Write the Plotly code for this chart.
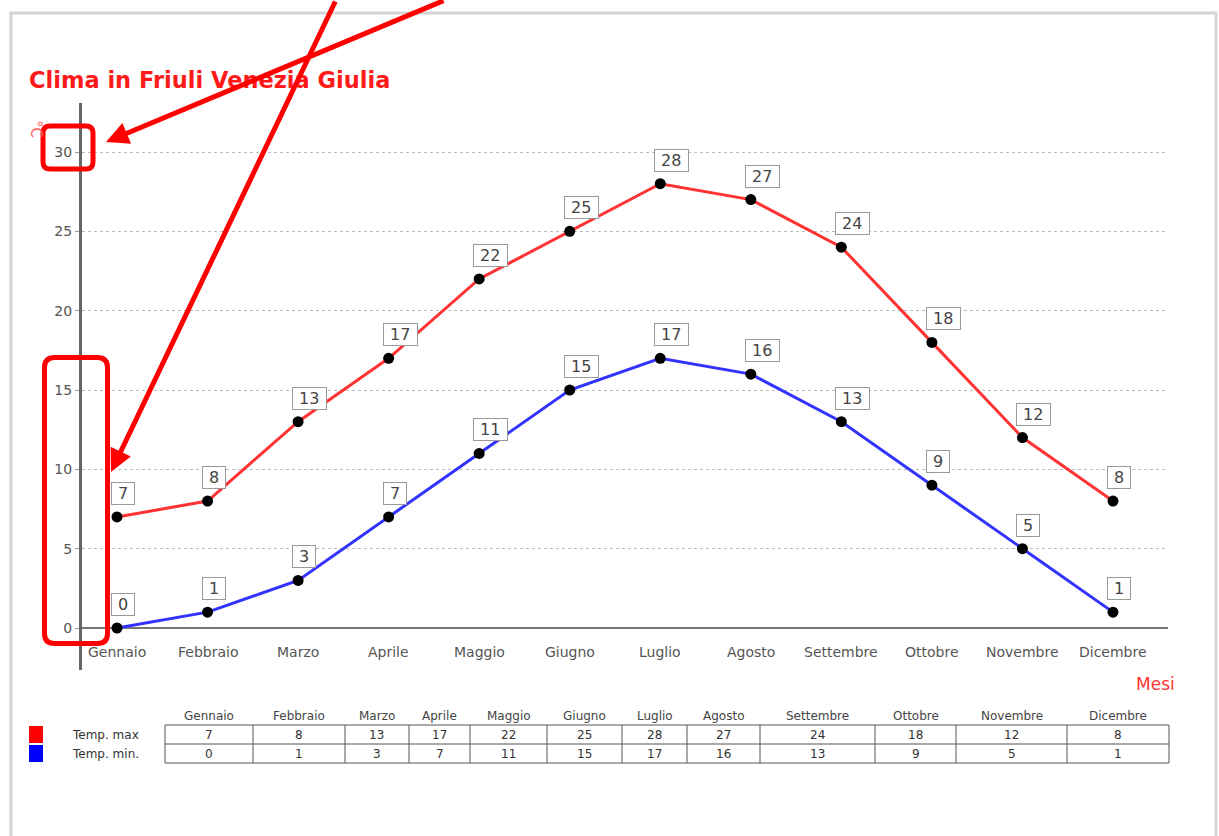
import plotly.graph_objects as go

months = ["Gennaio", "Febbraio", "Marzo", "Aprile", "Maggio", "Giugno",
          "Luglio", "Agosto", "Settembre", "Ottobre", "Novembre", "Dicembre"]
temp_max = [7, 8, 13, 17, 22, 25, 28, 27, 24, 18, 12, 8]
temp_min = [0, 1, 3, 7, 11, 15, 17, 16, 13, 9, 5, 1]
y_ticks = [0, 5, 10, 15, 20, 25, 30]
series_names = ["Temp. max", "Temp. min."]
series_colors = ["#ff3333", "#3333ff"]
legend_colors = ["#ff0000", "#0000ff"]

W, H = 1219, 836
L, R, T, B = 82, 1168, 103, 670


def px(x):
    return (x - L) / (R - L)


def py(y):
    return (B - y) / (B - T)


xs = list(range(len(months)))
fig = go.Figure()
for name, vals, col in zip(series_names, [temp_max, temp_min], series_colors):
    fig.add_trace(go.Scatter(
        x=xs, y=vals, mode="lines+markers", name=name,
        line=dict(color=col, width=3),
        marker=dict(color="black", size=11),
        showlegend=False, hoverinfo="skip"))

ann = []
# value labels
for vals in [temp_max, temp_min]:
    for i, v in enumerate(vals):
        ann.append(dict(x=i, y=v, xref="x", yref="y", text=f" {v} ", showarrow=False,
                        xanchor="left", yanchor="bottom", xshift=-6, yshift=12,
                        font=dict(family="DejaVu Sans", size=16, color="#444"),
                        bgcolor="white", bordercolor="#999", borderwidth=1, borderpad=1))
# category labels
for i, m in enumerate(months):
    ann.append(dict(x=i, y=0, xref="x", yref="y", text=m, showarrow=False,
                    xanchor="center", yanchor="top", yshift=-14,
                    font=dict(family="DejaVu Sans", size=14, color="#555")))

# title
ann.append(dict(x=px(27), y=py(80), xref="paper", yref="paper", xanchor="left", yanchor="middle",
                text="<b>Clima in Friuli Venezia Giulia</b>", showarrow=False,
                font=dict(family="DejaVu Sans", size=22.5, color="#ff1a1a")))
# y-axis unit
ann.append(dict(x=px(36), y=py(129), xref="paper", yref="paper", text="°C", showarrow=False,
                xanchor="center", yanchor="middle",
                textangle=90, font=dict(family="DejaVu Sans", size=15, color="#ff6666")))
# x-axis title
ann.append(dict(x=px(1155), y=py(684), xref="paper", yref="paper", text="Mesi", showarrow=False,
                xanchor="center", yanchor="middle",
                font=dict(family="DejaVu Sans", size=17, color="#ff3333")))

# table
col_edges = [165, 253, 345, 409, 470, 547, 622, 687, 760, 875, 956, 1067, 1169]
row_edges = [725, 744, 763]
shapes = []
for i, m in enumerate(months):
    cx = (col_edges[i] + col_edges[i + 1]) / 2
    ann.append(dict(x=px(cx), y=py(716), xref="paper", yref="paper", text=m, showarrow=False,
                    xanchor="center", yanchor="middle",
                    font=dict(family="DejaVu Sans", size=12, color="#444")))
    for r, vals in enumerate([temp_max, temp_min]):
        cy = (row_edges[r] + row_edges[r + 1]) / 2
        ann.append(dict(x=px(cx), y=py(cy), xref="paper", yref="paper", text=str(vals[i]),
                        xanchor="center", yanchor="middle",
                        showarrow=False, font=dict(family="DejaVu Sans", size=12, color="#333")))
for ry in row_edges:
    shapes.append(dict(type="line", xref="paper", yref="paper", x0=px(col_edges[0]), x1=px(col_edges[-1]),
                       y0=py(ry), y1=py(ry), line=dict(color="#555", width=1)))
for cx in col_edges:
    shapes.append(dict(type="line", xref="paper", yref="paper", x0=px(cx), x1=px(cx),
                       y0=py(row_edges[0]), y1=py(row_edges[-1]), line=dict(color="#555", width=1)))
# legend
for r, (name, col) in enumerate(zip(series_names, legend_colors)):
    y0, y1 = row_edges[r] + 1, row_edges[r + 1] - 1
    shapes.append(dict(type="rect", xref="paper", yref="paper", x0=px(29), x1=px(43),
                       y0=py(y0), y1=py(y1), fillcolor=col, line=dict(width=0)))
    ann.append(dict(x=px(70), y=py((row_edges[r] + row_edges[r + 1]) / 2), xref="paper", yref="paper",
                    xanchor="left", yanchor="middle", text=name, showarrow=False,
                    font=dict(family="DejaVu Sans", size=12, color="#333")))

# card frame
shapes.append(dict(type="rect", xref="paper", yref="paper", x0=px(11), x1=px(1216), y0=py(13), y1=py(850),
                   line=dict(color="#d4d4d4", width=3), layer="below"))


def rrect(x0, y0, x1, y1, r):
    pts = lambda x, y: f"{px(x)},{py(y)}"
    return (f"M {pts(x0 + r, y0)} L {pts(x1 - r, y0)} Q {pts(x1, y0)} {pts(x1, y0 + r)} "
            f"L {pts(x1, y1 - r)} Q {pts(x1, y1)} {pts(x1 - r, y1)} "
            f"L {pts(x0 + r, y1)} Q {pts(x0, y1)} {pts(x0, y1 - r)} "
            f"L {pts(x0, y0 + r)} Q {pts(x0, y0)} {pts(x0 + r, y0)} Z")


shapes.append(dict(type="path", xref="paper", yref="paper", path=rrect(43, 126, 93, 169, 7),
                   line=dict(color="#ff0000", width=5), layer="above"))
shapes.append(dict(type="path", xref="paper", yref="paper", path=rrect(44.5, 357.5, 107.5, 643.5, 10),
                   line=dict(color="#ff0000", width=5), layer="above"))

# red arrows
for tip, tail in [((106, 142), (445, -8)), ((111, 472), (336, -8))]:
    ann.append(dict(x=px(tip[0]), y=py(tip[1]), xref="paper", yref="paper", text="", showarrow=True,
                    ax=tail[0] - tip[0], ay=tail[1] - tip[1], axref="pixel", ayref="pixel",
                    arrowcolor="#ff0000", arrowwidth=5, arrowhead=2, arrowsize=0.9, standoff=0))

y_per_px = 30 / (628 - 152)
x_per_px = 11 / (1113 - 117)
fig.update_layout(
    width=W, height=H, margin=dict(l=L, r=W - R, t=T, b=H - B),
    paper_bgcolor="white", plot_bgcolor="white",
    annotations=ann, shapes=shapes,
    xaxis=dict(range=[-(117 - L) * x_per_px, 11 + (R - 1113) * x_per_px],
               showgrid=False, zeroline=False, showline=False, showticklabels=False, fixedrange=True),
    yaxis=dict(range=[-(B - 628) * y_per_px, (628 - T) * y_per_px],
               tickvals=y_ticks, showgrid=True, gridcolor="#bbbbbb", griddash="dot", gridwidth=1,
               zeroline=True, zerolinecolor="#777", zerolinewidth=2,
               showline=True, linecolor="#666", linewidth=3,
               ticks="outside", ticklen=4, tickcolor="#999",
               tickfont=dict(family="DejaVu Sans", size=14, color="#555")),
)
fig.write_html("out.html")
